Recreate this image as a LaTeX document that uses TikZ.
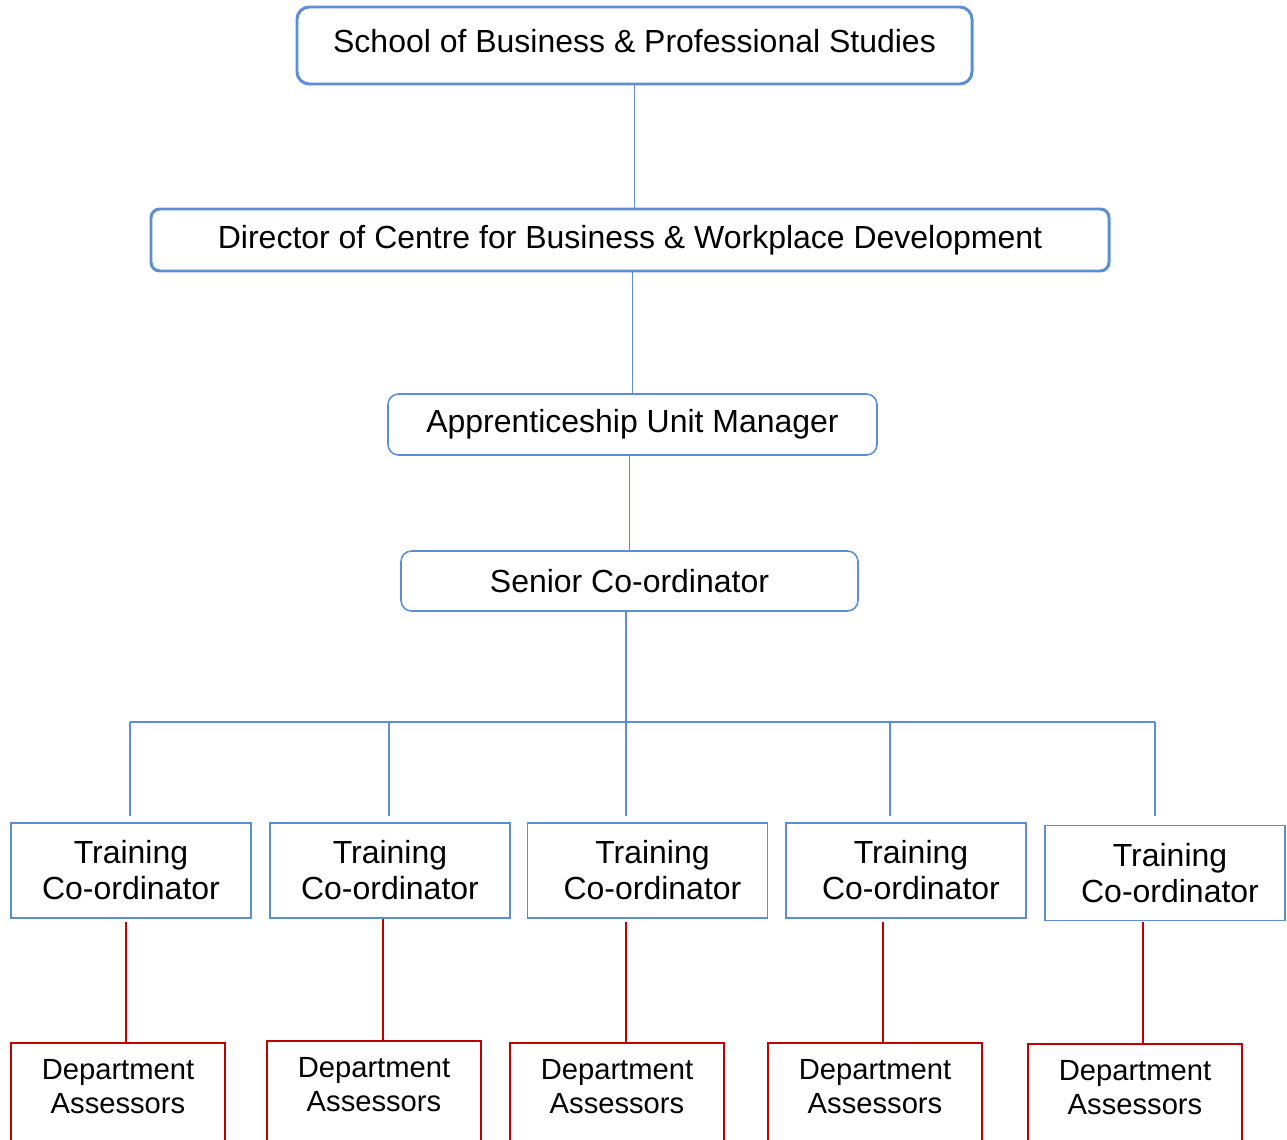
\documentclass[tikz,border=0pt]{standalone}
\usepackage{fontspec}
\setmainfont{Liberation Sans}
\usetikzlibrary{positioning,calc}
\definecolor{orgblue}{RGB}{91,142,213}
\definecolor{orgred}{RGB}{192,0,0}
\tikzset{topbox/.style={draw=orgblue,line width=1.7pt,rounded corners=7pt,inner sep=0pt,font=\fontsize{18.2}{21}\selectfont},mgrbox/.style={draw=orgblue,line width=0.9pt,rounded corners=6pt,inner sep=0pt,font=\fontsize{18.2}{21}\selectfont},tcbox/.style={draw=orgblue,line width=1pt,align=center,minimum width=4.8cm,minimum height=1.9cm,inner sep=0pt,font=\fontsize{18.2}{20.5}\selectfont},deptbox/.style={draw=orgred,line width=1pt,anchor=north,inner xsep=0pt,inner ysep=0.34cm,minimum width=4.28cm,font=\fontsize{16.6}{19.3}\selectfont},link/.style={draw=orgblue,line width=1.1pt},sublink/.style={draw=orgred,line width=0.9pt}}

\begin{document}
\begin{tikzpicture}
\useasboundingbox (0,0) rectangle (25.74,-22.8);
\clip (0,0) rectangle (25.74,-22.8);
% management chain
\node[topbox,minimum width=13.5cm,minimum height=1.54cm] (school) at (12.69,-0.91) {\raisebox{5pt}{School of Business \& Professional Studies}};
\node[topbox,minimum width=19.16cm,minimum height=1.24cm,rounded corners=5pt] (director) at (12.6,-4.8) {Director of Centre for Business \& Workplace Development};
\node[mgrbox,minimum width=9.78cm,minimum height=1.22cm] (aum) at (12.65,-8.49) {\raisebox{-1.5pt}{Apprenticeship Unit Manager}};
\node[mgrbox,minimum width=9.14cm,minimum height=1.2cm] (senior) at (12.59,-11.62) {Senior Co-ordinator};
% training co-ordinators
\node[tcbox] (tc1) at (2.62,-17.41) {Training\\Co-ordinator};
\node[tcbox] (tc2) at (7.8,-17.41) {Training\\Co-ordinator};
\node[tcbox] (tc3) at (12.95,-17.41) {\hspace*{0.2cm}Training\\\hspace*{0.2cm}Co-ordinator};
\node[tcbox] (tc4) at (18.12,-17.41) {\hspace*{0.2cm}Training\\\hspace*{0.2cm}Co-ordinator};
\node[tcbox] (tc5) at (23.3,-17.46) {\hspace*{0.2cm}Training\\\hspace*{0.2cm}Co-ordinator};
% assessors (boxes run off the bottom edge)
\node[deptbox] (da1) at (2.36,-20.84) {\parbox[c][2.3cm][t]{4.2cm}{\centering Department\\Assessors}};
\node[deptbox] (da2) at (7.48,-20.80) {\parbox[c][2.3cm][t]{4.2cm}{\centering Department\\Assessors}};
\node[deptbox] (da3) at (12.34,-20.84) {\parbox[c][2.3cm][t]{4.2cm}{\centering Department\\Assessors}};
\node[deptbox] (da4) at (17.5,-20.84) {\parbox[c][2.3cm][t]{4.2cm}{\centering Department\\Assessors}};
\node[deptbox] (da5) at (22.7,-20.86) {\parbox[c][2.3cm][t]{4.2cm}{\centering Department\\Assessors}};
% bus under the senior co-ordinator
\coordinate (b1) at (2.6,-14.44);
\coordinate (b2) at (7.78,-14.44);
\coordinate (b3) at (12.52,-14.44);
\coordinate (b4) at (17.8,-14.44);
\coordinate (b5) at (23.1,-14.44);
\draw[link] (school.south)--(school.south|-director.north);
\draw[link] (aum.north|-director.south)--(aum.north);
\draw[link] (senior.north|-aum.south)--(senior.north);
\draw[link] (b3|-senior.south)--(b3);
\draw[link] (b1)--(b5);
\draw[link,shorten >=0.12cm] (b1)--(b1|-tc1.north);
\draw[link,shorten >=0.12cm] (b2)--(b2|-tc2.north);
\draw[link,shorten >=0.12cm] (b3)--(b3|-tc3.north);
\draw[link,shorten >=0.12cm] (b4)--(b4|-tc4.north);
\draw[link,shorten >=0.18cm] (b5)--(b5|-tc5.north);
% links down to the assessors
\draw[sublink] ([xshift=-0.1cm,yshift=-0.06cm]tc1.south)--([xshift=-0.1cm]tc1.south|-da1.north);
\draw[sublink] ([xshift=-0.14cm]tc2.south)--([xshift=-0.14cm]tc2.south|-da2.north);
\draw[sublink] ([xshift=-0.43cm,yshift=-0.06cm]tc3.south)--([xshift=-0.43cm]tc3.south|-da3.north);
\draw[sublink] ([xshift=-0.46cm,yshift=-0.06cm]tc4.south)--([xshift=-0.46cm]tc4.south|-da4.north);
\draw[sublink] ([xshift=-0.44cm,yshift=-0.02cm]tc5.south)--([xshift=-0.44cm]tc5.south|-da5.north);
\end{tikzpicture}
\end{document}
